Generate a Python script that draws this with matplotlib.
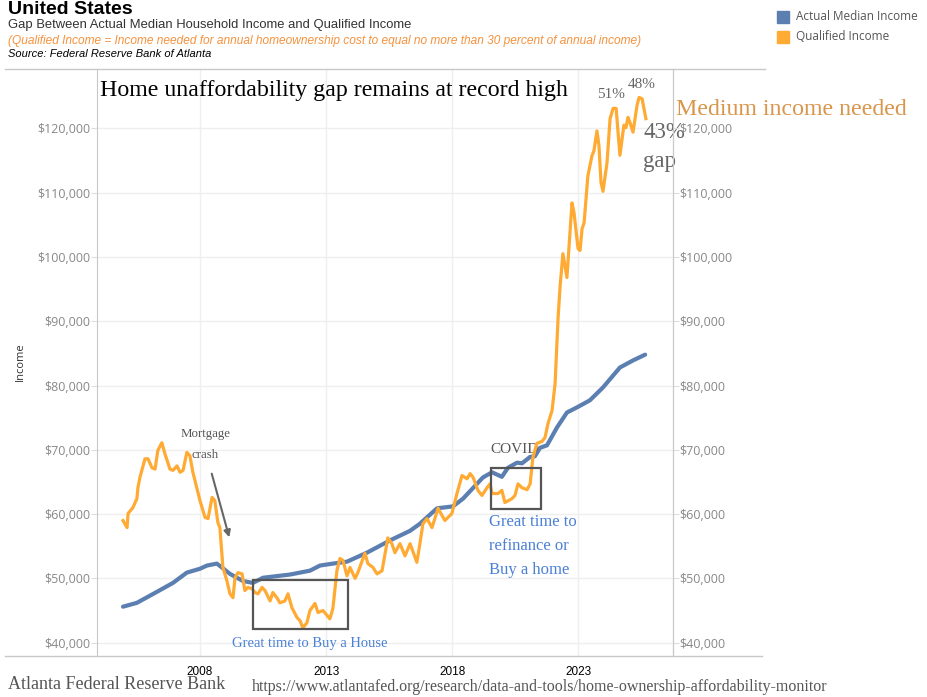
import matplotlib
matplotlib.use("Agg")
import matplotlib.pyplot as plt
import numpy as np
from matplotlib.patches import Rectangle
from matplotlib.lines import Line2D
from matplotlib.ticker import FuncFormatter

# Actual median household income (decimal year, dollars)
median_years = [2004.95, 2005.50, 2006.29, 2006.93, 2007.48, 2008.00, 2008.28, 2008.67,
                2008.87, 2009.19, 2009.70, 2010.10, 2010.50, 2011.57, 2012.36, 2012.76,
                2013.27, 2013.83, 2014.62, 2015.53, 2016.33, 2016.72, 2017.40, 2018.03,
                2018.43, 2019.22, 2019.58, 2019.97, 2020.21, 2020.57, 2020.77, 2021.09,
                2021.28, 2021.48, 2021.76, 2022.16, 2022.55, 2022.95, 2023.46, 2023.98,
                2024.65, 2025.17, 2025.65]
median_income = [45600, 46200, 47900, 49300, 50900, 51500, 52000, 52300,
                 51700, 50700, 49600, 49300, 50100, 50600, 51200, 52000,
                 52300, 52600, 54000, 55900, 57400, 58500, 60900, 61200,
                 62400, 65700, 66500, 65800, 67200, 68000, 67900, 68900,
                 69000, 70300, 70700, 73500, 75800, 76600, 77700, 79700,
                 82800, 83900, 84800]

# Qualified income (income needed so ownership cost <= 30% of income)
qual_years = [2004.95, 2005.11, 2005.15, 2005.34, 2005.50, 2005.54, 2005.62, 2005.82,
              2005.94, 2006.10, 2006.22, 2006.33, 2006.49, 2006.61, 2006.81, 2006.93,
              2007.09, 2007.21, 2007.33, 2007.48, 2007.60, 2007.72, 2007.88, 2008.00,
              2008.20, 2008.32, 2008.48, 2008.59, 2008.71, 2008.79, 2008.91, 2009.07,
              2009.19, 2009.31, 2009.39, 2009.51, 2009.67, 2009.78, 2009.90, 2010.06,
              2010.18, 2010.30, 2010.46, 2010.58, 2010.78, 2010.89, 2011.05, 2011.17,
              2011.37, 2011.49, 2011.65, 2011.85, 2011.97, 2012.08, 2012.24, 2012.36,
              2012.56, 2012.68, 2012.88, 2013.15, 2013.27, 2013.43, 2013.55, 2013.67,
              2013.83, 2013.95, 2014.15, 2014.26, 2014.54, 2014.66, 2014.86, 2015.02,
              2015.22, 2015.45, 2015.61, 2015.73, 2015.93, 2016.13, 2016.33, 2016.60,
              2016.72, 2016.84, 2017.00, 2017.20, 2017.44, 2017.71, 2017.99, 2018.19,
              2018.39, 2018.59, 2018.71, 2018.83, 2019.02, 2019.18, 2019.38, 2019.50,
              2019.58, 2019.82, 2019.97, 2020.09, 2020.37, 2020.49, 2020.61, 2020.77,
              2020.97, 2021.09, 2021.20, 2021.36, 2021.56, 2021.68, 2021.80, 2021.96,
              2022.08, 2022.20, 2022.28, 2022.39, 2022.55, 2022.75, 2022.83, 2022.99,
              2023.07, 2023.15, 2023.23, 2023.38, 2023.54, 2023.62, 2023.74, 2023.82,
              2023.90, 2023.98, 2024.14, 2024.26, 2024.38, 2024.50, 2024.65, 2024.77,
              2024.81, 2024.89, 2024.97, 2025.05, 2025.17, 2025.33, 2025.41, 2025.53,
              2025.68]
qual_income = [59000, 57900, 60100, 61000, 62400, 64100, 65700, 68600,
               68600, 67200, 67000, 69900, 71100, 69400, 67000, 66800,
               67500, 66500, 66800, 69600, 69100, 66500, 64000, 62100,
               59500, 59300, 62600, 62100, 58700, 57900, 51700, 49600,
               47600, 47000, 50100, 50900, 50700, 48100, 48600, 48400,
               47800, 47600, 48600, 48100, 46500, 47800, 47000, 46200,
               46500, 47600, 45400, 43900, 43400, 42300, 43100, 45000,
               46100, 44700, 45000, 43700, 45300, 51200, 53100, 52800,
               50400, 51700, 50000, 50900, 53900, 52300, 51700, 50700,
               51200, 56300, 55400, 54000, 55400, 53500, 55400, 52500,
               55400, 58500, 59300, 57900, 60900, 59000, 60100, 63200,
               66000, 65500, 66300, 65700, 63700, 62900, 64100, 64700,
               63200, 63200, 63700, 61800, 62400, 62900, 64700, 64100,
               63800, 64700, 68800, 71000, 71300, 71900, 74100, 76100,
               80300, 90600, 95500, 100500, 96800, 108400, 106900, 101300,
               101000, 104400, 105300, 112600, 115700, 116500, 119600, 117300,
               111600, 110200, 114700, 121500, 123100, 123100, 115800, 119400,
               120500, 120100, 121700, 120900, 119400, 123600, 124800, 124600,
               121500]

year_ticks = [2008, 2013, 2018, 2023]
income_ticks = np.arange(40000, 120001, 10000)

BLUE = '#5b7fb1'
ORANGE = '#ffaa33'
SERIF = 'Liberation Serif'
SANS = 'Liberation Sans'
W, H = 928, 697

fig = plt.figure(figsize=(W / 100, H / 100), dpi=100)
fig.patch.set_facecolor('white')

def fx(px):
    return px / W

def fy(py):
    return 1 - py / H

ax = fig.add_axes([fx(97.3), fy(656), (673 - 97.3) / W, (656 - 69.3) / H])
ax.plot(median_years, median_income, color=BLUE, lw=3.0, solid_capstyle='round', zorder=3)
ax.plot(qual_years, qual_income, color=ORANGE, lw=2.3, solid_joinstyle='round', zorder=4)

ax.set_xlim(2003.93, 2026.755)
ax.set_ylim(37930, 129180)
ax.set_xticks(year_ticks)
ax.set_yticks(income_ticks)
money = FuncFormatter(lambda v, p: '${:,.0f}'.format(v))
ax.yaxis.set_major_formatter(money)
ax.grid(True, color='#efefef', lw=1, zorder=0)
for s in ['top', 'bottom']:
    ax.spines[s].set_visible(False)
for s in ['left', 'right']:
    ax.spines[s].set_color('#c8c8c8')
ax.tick_params(axis='x', length=0, pad=7, labelsize=8.5, labelcolor='black')
ax.tick_params(axis='y', length=4.3, width=0.8, color='#dddddd', pad=0.5,
               labelsize=9, labelcolor='#888888')
for lab in ax.get_xticklabels():
    lab.set_fontfamily(SANS)
for lab in ax.get_yticklabels():
    lab.set_fontfamily('Open Sans')

ax2 = ax.twinx()
ax2.set_ylim(ax.get_ylim())
ax2.set_yticks(income_ticks)
ax2.yaxis.set_major_formatter(money)
for s in ['top', 'bottom', 'left']:
    ax2.spines[s].set_visible(False)
ax2.spines['right'].set_color('#c8c8c8')
ax2.tick_params(axis='y', length=4.3, width=0.8, color='#dddddd', pad=0.5,
                labelsize=9, labelcolor='#888888')
for lab in ax2.get_yticklabels():
    lab.set_fontfamily('Open Sans')

# frame lines across the top and bottom
fig.add_artist(Line2D([fx(5), fx(765)], [fy(69.3), fy(69.3)], color='#c8c8c8', lw=1))
fig.add_artist(Line2D([fx(5), fx(762)], [fy(656), fy(656)], color='#c8c8c8', lw=1))

fig.text(fx(20), fy(362), 'Income', rotation=90, ha='center', va='center',
         fontsize=8, color='#333333', family='Open Sans')

# header
fig.text(fx(8), fy(14), 'United States', fontsize=14, fontweight='bold', family=SANS, va='baseline')
fig.text(fx(8), fy(28), 'Gap Between Actual Median Household Income and Qualified Income',
         fontsize=9.35, family=SANS, color='#333333', va='baseline')
fig.text(fx(8), fy(44), '(Qualified Income = Income needed for annual homeownership cost to equal no more than 30 percent of annual income)',
         fontsize=8.6, family=SANS, style='italic', color='#f5923e', va='baseline')
fig.text(fx(8), fy(57), 'Source: Federal Reserve Bank of Atlanta',
         fontsize=8, family=SANS, style='italic', color='black', va='baseline')

# legend
for i, (c, name) in enumerate([(BLUE, 'Actual Median Income'), (ORANGE, 'Qualified Income')]):
    top = 11 + i * 20
    fig.add_artist(Rectangle((fx(777), fy(top + 12)), 12 / W, 12 / H, color=c,
                             transform=fig.transFigure))
    fig.text(fx(796), fy(top + 6), name, fontsize=8.5, family='Open Sans', color='#555555', va='center')

# footer
fig.text(fx(8), fy(689), 'Atlanta Federal Reserve Bank', fontsize=13, family=SERIF, color='#555555', va='baseline')
fig.text(fx(252), fy(691), 'https://www.atlantafed.org/research/data-and-tools/home-ownership-affordability-monitor',
         fontsize=11.55, family=SERIF, color='#555555', va='baseline')

# annotations
T = ax.transAxes
ax.text(0.0047, 0.9545, 'Home unaffordability gap remains at record high', transform=T,
        fontsize=17.2, family=SERIF, color='black', va='baseline')
ax.text(1.005, 0.922, 'Medium income needed', transform=T, fontsize=17.2, family=SERIF,
        color='#d9954a', va='baseline')
ax.text(0.948, 0.883, '43%', transform=T, fontsize=16.5, family=SERIF, color='#666666', va='baseline', zorder=6)
ax.text(0.948, 0.8335, 'gap', transform=T, fontsize=16.5, family=SERIF, color='#666666', va='baseline', zorder=6)
ax.text(0.868, 0.951, '51%', transform=T, fontsize=11, family=SERIF, color='#666666', va='baseline')
ax.text(0.9215, 0.968, '48%', transform=T, fontsize=11, family=SERIF, color='#666666', va='baseline')
ax.text(0.1888, 0.3733, 'Mortgage', transform=T, fontsize=9.3, family=SERIF, color='#555555',
        ha='center', va='baseline')
ax.text(0.187, 0.3375, 'crash', transform=T, fontsize=9.3, family=SERIF, color='#555555',
        ha='center', va='baseline')
ax.annotate('', xy=(0.2305, 0.1977), xytext=(0.1975, 0.3153), xycoords=T, textcoords=T,
            arrowprops=dict(arrowstyle='-|>', color='#666666', lw=1.5, mutation_scale=10))
ax.add_patch(Rectangle((0.270, 0.046), 0.166, 0.0835, transform=T, fill=False,
                       edgecolor='#555555', lw=1.6, zorder=5))
ax.text(0.3696, 0.0153, 'Great time to Buy a House', transform=T, fontsize=10.5, family=SERIF,
        color='#4a80d6', ha='center', va='baseline')
ax.add_patch(Rectangle((0.6833, 0.2505), 0.0874, 0.0694, transform=T, fill=False,
                       edgecolor='#555555', lw=1.6, zorder=5))
ax.text(0.682, 0.346, 'COVID', transform=T, fontsize=11, family=SERIF, color='#555555', va='baseline')
for line, yy in zip(['Great time to', 'refinance or', 'Buy a home'], [0.2216, 0.1807, 0.1398]):
    ax.text(0.680, yy, line, transform=T, fontsize=12, family=SERIF, color='#4a80d6', va='baseline')

fig.savefig('out.png', dpi=100)
